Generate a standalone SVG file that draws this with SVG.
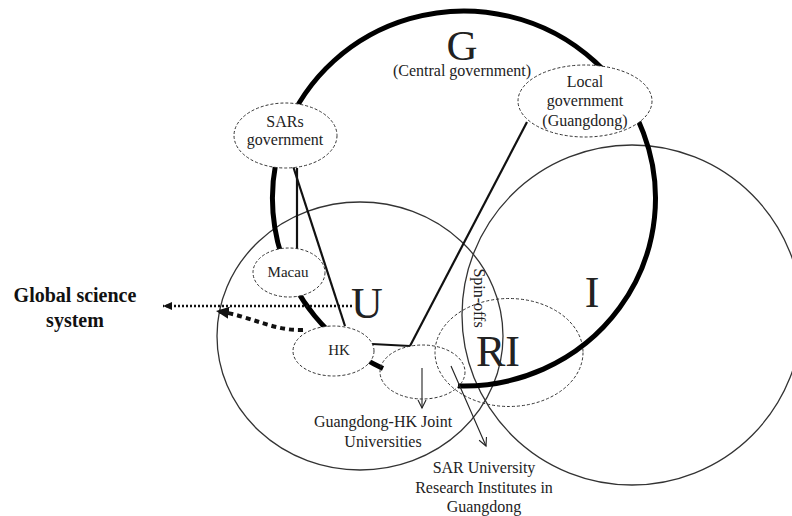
<svg xmlns="http://www.w3.org/2000/svg" width="792" height="516" viewBox="0 0 792 516">
  <style>
    text { font-family: "Liberation Serif", "Times New Roman", serif; fill: #222; }
    .lbl { font-size: 16px; text-anchor: middle; }
    .big { font-size: 44px; text-anchor: middle; }
    .bold { font-size: 20px; font-weight: bold; text-anchor: middle; fill: #111; }
    .sphere { fill: none; stroke: #333; stroke-width: 1.3; }
    .node { fill: #fff; stroke: #333; stroke-width: 1; stroke-dasharray: 3 2; }
    .zone { fill: none; stroke: #333; stroke-width: 1; stroke-dasharray: 3 2; }
    .link { fill: none; stroke: #111; stroke-width: 2.2; }
    .thin { fill: none; stroke: #222; stroke-width: 1.1; }
  </style>
  <defs>
    <marker id="openHead" markerUnits="userSpaceOnUse" markerWidth="12" markerHeight="12" refX="9" refY="5" orient="auto">
      <path d="M1,1 L9,5 L1,9" fill="none" stroke="#222" stroke-width="1.1"/>
    </marker>
    <marker id="dotHead" markerUnits="userSpaceOnUse" markerWidth="12" markerHeight="10" refX="9" refY="4" orient="auto">
      <path d="M0,0 L9,4 L0,8 Z" fill="#111"/>
    </marker>
    <marker id="boldHead" markerUnits="userSpaceOnUse" markerWidth="16" markerHeight="14" refX="13" refY="6" orient="auto">
      <path d="M0,0 L13,6 L0,12 Z" fill="#111"/>
    </marker>
  </defs>

  <rect width="792" height="516" fill="#fff"/>

  <!-- spheres: university (U), industry (I), research institutes (RI) -->
  <g id="sphere-U">
    <ellipse class="sphere" cx="360" cy="336" rx="143" ry="134"/>
    <text class="big" x="367" y="318">U</text>
  </g>
  <g id="sphere-I">
    <circle class="sphere" cx="632" cy="315" r="170"/>
    <text class="big" x="592" y="307">I</text>
  </g>
  <g id="sphere-RI">
    <ellipse class="zone" cx="509" cy="352.5" rx="74" ry="54"/>
    <text class="big" x="498" y="366">RI</text>
  </g>
  <g id="spin-offs">
    <text class="lbl" transform="translate(474,298) rotate(90)">Spin-offs</text>
  </g>

  <!-- government sphere (G), thick outline broken at the joint-university node -->
  <g id="sphere-G">
    <path d="M458,385.9 A191.5,187.5 0 1 0 383,368.4" fill="none" stroke="#000" stroke-width="5"/>
    <text x="462" y="60" style="font-size:43px;text-anchor:middle">G</text>
    <text class="lbl" x="462" y="76">(Central government)</text>
  </g>

  <!-- connectors -->
  <g id="connectors">
    <line class="link" x1="293" y1="166" x2="345" y2="326"/>
    <line class="link" x1="297" y1="168" x2="297" y2="249"/>
    <line class="link" x1="527" y1="122" x2="410" y2="346"/>
    <line class="link" x1="372" y1="344" x2="410" y2="346"/>
    <line class="thin" x1="422" y1="368" x2="422" y2="408" marker-end="url(#openHead)"/>
    <line class="thin" x1="451" y1="366" x2="486" y2="446" marker-end="url(#openHead)"/>
    <line x1="352" y1="306" x2="163" y2="306" stroke="#111" stroke-width="2.4" stroke-dasharray="2 2" marker-end="url(#dotHead)"/>
    <path d="M303,330 C272,331 252,316 216,311" fill="none" stroke="#111" stroke-width="4" stroke-dasharray="5 4" marker-end="url(#boldHead)"/>
  </g>

  <!-- actor nodes -->
  <g id="node-sars">
    <ellipse class="node" cx="285.5" cy="135.5" rx="51.5" ry="32.5"/>
    <text class="lbl" x="285" y="127">SARs</text>
    <text class="lbl" x="285" y="145">government</text>
  </g>
  <g id="node-local">
    <ellipse class="node" cx="585" cy="101" rx="67" ry="36"/>
    <text class="lbl" x="585" y="87">Local</text>
    <text class="lbl" x="585" y="106">government</text>
    <text class="lbl" x="585" y="126">(Guangdong)</text>
  </g>
  <g id="node-macau">
    <ellipse class="node" cx="289" cy="272.5" rx="36" ry="24.5"/>
    <text class="lbl" x="288" y="277" style="font-size:15px">Macau</text>
  </g>
  <g id="node-hk">
    <ellipse class="node" cx="333.5" cy="351" rx="40.5" ry="25"/>
    <text class="lbl" x="339" y="355" style="font-size:15px">HK</text>
  </g>
  <g id="node-joint">
    <ellipse class="zone" cx="422.5" cy="372" rx="42.5" ry="27"/>
  </g>

  <!-- labels -->
  <g id="label-global">
    <text class="bold" x="75" y="302">Global science</text>
    <text class="bold" x="75" y="327">system</text>
  </g>
  <g id="label-joint">
    <text class="lbl" x="383" y="427">Guangdong-HK Joint</text>
    <text class="lbl" x="383" y="447">Universities</text>
  </g>
  <g id="label-sar-institutes">
    <text class="lbl" x="484" y="473">SAR University</text>
    <text class="lbl" x="484" y="493">Research Institutes in</text>
    <text class="lbl" x="484" y="512">Guangdong</text>
  </g>
</svg>
